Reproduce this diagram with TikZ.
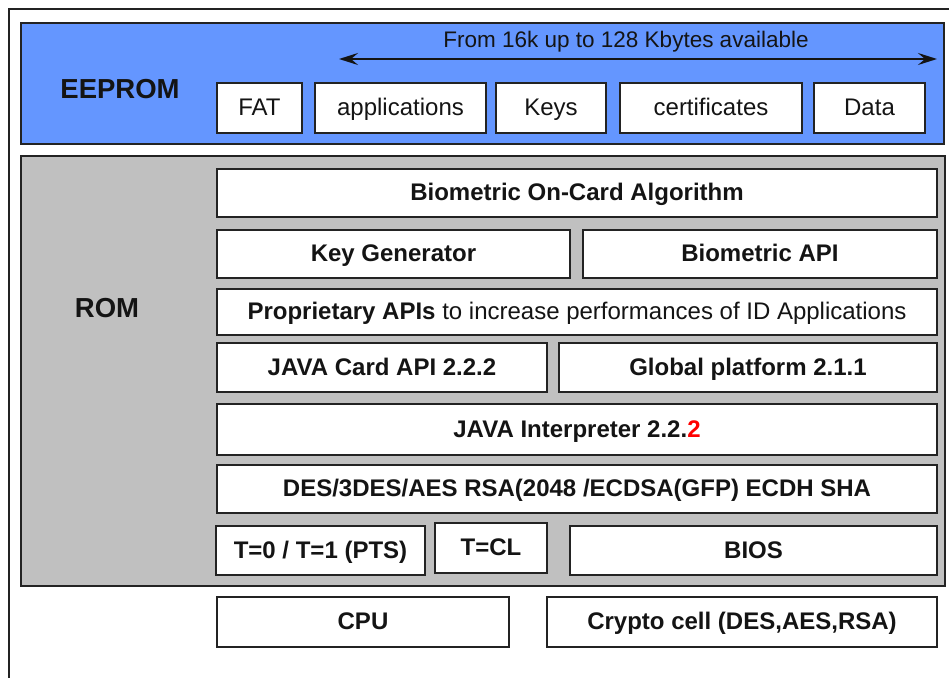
\documentclass[tikz,border=0pt]{standalone}
\usepackage{fontspec}
\setmainfont{Liberation Sans}
\usetikzlibrary{arrows.meta}
\definecolor{eeblue}{RGB}{100,150,255}
\definecolor{romgray}{RGB}{192,192,192}
\definecolor{edgec}{RGB}{35,35,35}
\definecolor{txtc}{RGB}{20,20,20}
\tikzset{
  layer/.style={draw=edgec, line width=1.6pt, inner sep=0pt},
  cellbase/.style={draw=edgec, fill=white, line width=1.6pt, inner sep=0pt,
    text=txtc, text height=17pt, text depth=2pt},
  cell/.style={cellbase, font=\fontsize{24}{28}\selectfont\bfseries},
  ecell/.style={cellbase, font=\fontsize{24}{28}\selectfont},
  biglabel/.style={inner sep=0pt, text=txtc, font=\fontsize{27.5}{32}\selectfont\bfseries},
  note/.style={inner sep=0pt, text=txtc, font=\fontsize{22.5}{27}\selectfont},
  span/.style={draw=txtc, line width=2.4pt, {Stealth[length=19pt,width=12pt,inset=7pt]}-{Stealth[length=19pt,width=12pt,inset=7pt]}},
  frame/.style={draw=edgec, line width=1.4pt}
}
\begin{document}
\begin{tikzpicture}[x=1pt,y=-1pt]
\useasboundingbox (0,0) rectangle (949,677);
\fill[white] (0,0) rectangle (949,677);
\draw[frame] (955,9) -- (9,9) -- (9,685);

% layers
\node[layer, fill=eeblue, minimum width=923pt, minimum height=121pt] (eeprom) at (482.5,83.5) {};
\node[layer, fill=romgray, minimum width=924pt, minimum height=430pt] (rom) at (483,371) {};

\node[biglabel] (eelabel) at (120,89) {EEPROM};
\node[biglabel] (romlabel) at (107,308) {ROM};

% EEPROM cells
\node[ecell, minimum width=85pt, minimum height=50pt] (fat) at (259.5,108) {FAT};
\node[ecell, minimum width=171pt, minimum height=50pt] (apps) at (400.5,108) {applications};
\node[ecell, minimum width=110pt, minimum height=50pt] (keys) at (551,108) {Keys};
\node[ecell, minimum width=182pt, minimum height=50pt] (certs) at (711,108) {certificates};
\node[ecell, minimum width=111pt, minimum height=50pt] (data) at (869.5,108) {Data};

\coordinate (al) at (339,59);
\coordinate (ar) at (937,59);
\draw[span] (al) -- (ar);
\node[note] (avail) at (626,42) {From 16k up to 128 Kbytes available};

% ROM cells
\node[cell, minimum width=720pt, minimum height=48pt] (bioalg) at (577,193) {Biometric On-Card Algorithm};
\node[cell, minimum width=353pt, minimum height=48pt] (keygen) at (393.5,254) {Key Generator};
\node[cell, minimum width=354pt, minimum height=48pt] (bioapi) at (760,254) {Biometric API};
\node[cell, minimum width=720pt, minimum height=46pt] (prop) at (577,312) {Proprietary APIs\mdseries\ to increase performances of ID Applications};
\node[cell, minimum width=330pt, minimum height=49pt] (jcapi) at (382,367.5) {JAVA Card API 2.2.2};
\node[cell, minimum width=378pt, minimum height=49pt] (gp) at (748,367.5) {Global platform 2.1.1};
\node[cell, minimum width=720pt, minimum height=51pt] (interp) at (577,429.5) {JAVA Interpreter 2.2.\textcolor{red}{2}};
\node[cell, minimum width=720pt, minimum height=48pt] (crypto) at (577,489) {DES/3DES/AES RSA(2048 /ECDSA(GFP) ECDH SHA};
\node[cell, minimum width=209pt, minimum height=49pt] (tzero) at (320.5,550.5) {T=0 / T=1 (PTS)};
\node[cell, minimum width=112pt, minimum height=50pt] (tcl) at (491,548) {T=CL};
\node[cell, minimum width=367pt, minimum height=49pt] (bios) at (753.5,550.5) {BIOS};

% hardware
\node[cell, minimum width=292pt, minimum height=50pt] (cpu) at (363,622) {CPU};
\node[cell, minimum width=390pt, minimum height=50pt] (cell) at (742,622) {Crypto cell (DES,AES,RSA)};
\end{tikzpicture}
\end{document}
